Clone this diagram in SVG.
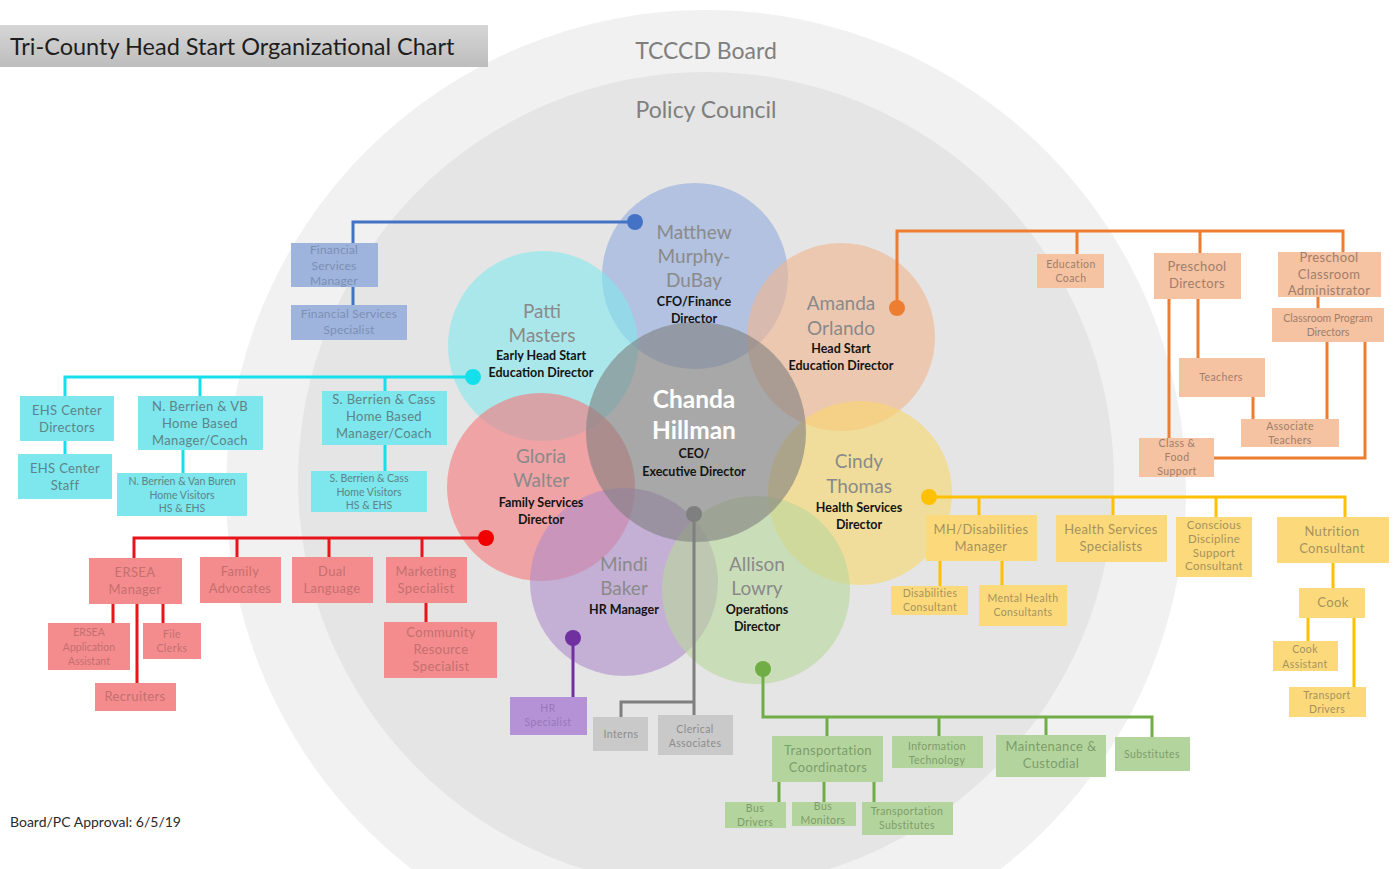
<svg xmlns="http://www.w3.org/2000/svg" width="1395" height="869" viewBox="0 0 1395 869">
<defs>
  <linearGradient id="titleGrad" x1="0" y1="0" x2="0" y2="1">
    <stop offset="0" stop-color="#d6d6d6"/>
    <stop offset="1" stop-color="#bdbdbd"/>
  </linearGradient>
</defs>
<style>
  text{font-family:Lato,"Open Sans","Liberation Sans",sans-serif;text-anchor:middle}
  .ring{font-size:23px;fill:#7f7f7f}
  .nm{font-size:19px;fill:#8a8a8a}
  .ttl{font-size:12.5px;font-weight:bold;fill:#141414}
  .ceo{font-size:24.5px;font-weight:bold;fill:#ffffff}
  .person{opacity:0.6}
  .t12{font-size:13px;letter-spacing:0.35px}
  .t11{font-size:11.5px;letter-spacing:0.3px}
  .t10{font-size:10.5px;letter-spacing:0.4px}
  .t9{font-size:10.5px}
  .conn path{fill:none;stroke-width:3}
  .blue rect{fill:#9fb4dc}.blue text{fill:#7b8fb5;font-size:12px;letter-spacing:0.2px}
  .cyan rect{fill:#7ee6ed}.cyan text{fill:#5d8488}
  .red rect{fill:#f48c8d}.red text{fill:#c46f70}
  .purple rect{fill:#b592d6}.purple text{fill:#9877b6}
  .gray rect{fill:#c9c9c9}.gray text{fill:#8c8c8c}
  .green rect{fill:#b3d59d}.green text{fill:#7e9c6c}
  .orange rect{fill:#f5c3a1}.orange text{fill:#a07e6c}
  .yellow rect{fill:#fcda7c}.yellow text{fill:#a4925c}
</style>

<rect width="1395" height="869" fill="#ffffff"/>

<!-- governance rings -->
<g id="board">
  <circle cx="706" cy="490" r="480" fill="#f1f1f1"/>
  <text class="ring" x="706" y="59">TCCCD Board</text>
</g>
<g id="policy-council">
  <circle cx="706" cy="480" r="408" fill="#e5e5e5"/>
  <text class="ring" x="706" y="118">Policy Council</text>
</g>

<!-- title and footer -->
<rect x="0" y="25" width="488" height="42" fill="url(#titleGrad)"/>
<text x="10" y="55" style="text-anchor:start;font-size:23.5px;fill:#1e1e1e">Tri-County Head Start Organizational Chart</text>
<text x="10" y="827" style="text-anchor:start;font-size:14px;fill:#2a2a2a">Board/PC Approval: 6/5/19</text>

<!-- leadership circles -->
<g id="matthew">
  <circle class="person" cx="695" cy="276" r="93" fill="#8faadc"/>
</g>
<g id="patti">
  <circle class="person" cx="543" cy="346" r="95" fill="#82e8ed"/>
</g>
<g id="amanda">
  <circle class="person" cx="841" cy="337" r="94" fill="#f2b48e"/>
</g>
<g id="gloria">
  <circle class="person" cx="541" cy="487" r="94" fill="#f5767a"/>
</g>
<g id="cindy">
  <circle class="person" cx="860" cy="493" r="92" fill="#f8d769"/>
</g>
<g id="mindi">
  <circle class="person" cx="624" cy="582" r="94" fill="#af8cca"/>
</g>
<g id="allison">
  <circle class="person" cx="756" cy="590" r="94" fill="#b7d79b"/>
</g>
<g id="chanda">
  <circle class="person" cx="696" cy="432" r="110" fill="#7f7f7f"/>
</g>

<!-- leadership names -->
<g id="matthew-label">
  <text class="nm" x="694" y="239">Matthew</text>
  <text class="nm" x="694" y="263">Murphy-</text>
  <text class="nm" x="694" y="287">DuBay</text>
  <text class="ttl" x="694" y="306">CFO/Finance</text>
  <text class="ttl" x="694" y="323">Director</text>
</g>
<g id="patti-label">
  <text class="nm" x="542" y="318">Patti</text>
  <text class="nm" x="542" y="342">Masters</text>
  <text class="ttl" x="541" y="360">Early Head Start</text>
  <text class="ttl" x="541" y="377">Education Director</text>
</g>
<g id="amanda-label">
  <text class="nm" x="841" y="310">Amanda</text>
  <text class="nm" x="841" y="335">Orlando</text>
  <text class="ttl" x="841" y="353">Head Start</text>
  <text class="ttl" x="841" y="370">Education Director</text>
</g>
<g id="chanda-label">
  <text class="ceo" x="694" y="408">Chanda</text>
  <text class="ceo" x="694" y="439">Hillman</text>
  <text class="ttl" x="694" y="458">CEO/</text>
  <text class="ttl" x="694" y="476">Executive Director</text>
</g>
<g id="gloria-label">
  <text class="nm" x="541" y="463">Gloria</text>
  <text class="nm" x="541" y="487">Walter</text>
  <text class="ttl" x="541" y="507">Family Services</text>
  <text class="ttl" x="541" y="524">Director</text>
</g>
<g id="cindy-label">
  <text class="nm" x="859" y="468">Cindy</text>
  <text class="nm" x="859" y="493">Thomas</text>
  <text class="ttl" x="859" y="512">Health Services</text>
  <text class="ttl" x="859" y="529">Director</text>
</g>
<g id="mindi-label">
  <text class="nm" x="624" y="571">Mindi</text>
  <text class="nm" x="624" y="595">Baker</text>
  <text class="ttl" x="624" y="614">HR Manager</text>
</g>
<g id="allison-label">
  <text class="nm" x="757" y="571">Allison</text>
  <text class="nm" x="757" y="595">Lowry</text>
  <text class="ttl" x="757" y="614">Operations</text>
  <text class="ttl" x="757" y="631">Director</text>
</g>

<!-- reporting lines -->
<g id="connectors" class="conn">
  <path stroke="#4472c4" d="M635,222H353V243M353,287V305"/>
  <circle cx="635" cy="222" r="8" fill="#4472c4"/>
  <path stroke="#14e0ec" d="M473,377H65V396M200,377V396M385,377V391M65,441V454M183,450V473M385,445V471"/>
  <circle cx="473" cy="377" r="8" fill="#14e0ec"/>
  <path stroke="#e8141c" d="M486,538H134V558M237,538V557M329,538V557M422,538V557M113,604V623M137,604V683M163,604V623M426,603V622"/>
  <circle cx="486" cy="538" r="8" fill="#f00000"/>
  <path stroke="#7030a0" d="M573,638V697"/>
  <circle cx="573" cy="638" r="8" fill="#7030a0"/>
  <path stroke="#7f7f7f" d="M694,514V715M694,702H621V717"/>
  <circle cx="694" cy="514" r="8" fill="#7f7f7f"/>
  <path stroke="#70ad47" d="M763,669V717H1152V737M827,717V736M939,717V736M1046,717V735M779,782V802M824,782V802M874,782V802"/>
  <circle cx="763" cy="669" r="8" fill="#70ad47"/>
  <path stroke="#ed7d31" d="M897,308V231H1343V252M1077,231V254M1200,231V253M1318,297V308M1198,299V358M1169,299V438M1253,397V419M1327,342V419M1365,342V458H1214"/>
  <circle cx="897" cy="308" r="8" fill="#ed7d31"/>
  <path stroke="#ffc000" d="M929,497H1345V517M979,497V515M1113,497V515M1216,497V517M940,561V586M1002,561V585M1333,563V588M1308,618V641M1354,618V687"/>
  <circle cx="929" cy="497" r="8" fill="#ffc000"/>
</g>

<!-- finance -->
<g id="fin-manager" class="blue">
  <rect x="291" y="243" width="87" height="44"/>
  <text x="334" y="254">Financial</text>
  <text x="334" y="270">Services</text>
  <text x="334" y="285">Manager</text>
</g>
<g id="fin-specialist" class="blue">
  <rect x="291" y="305" width="116" height="35"/>
  <text x="349" y="318">Financial Services</text>
  <text x="349" y="334">Specialist</text>
</g>

<!-- early head start -->
<g id="ehs-directors" class="cyan">
  <rect x="20" y="396" width="94" height="45"/>
  <text class="t12" x="67" y="415">EHS Center</text>
  <text class="t12" x="67" y="432">Directors</text>
</g>
<g id="ehs-staff" class="cyan">
  <rect x="18" y="454" width="94" height="45"/>
  <text class="t12" x="65" y="473">EHS Center</text>
  <text class="t12" x="65" y="490">Staff</text>
</g>
<g id="nb-manager" class="cyan">
  <rect x="138" y="396" width="125" height="54"/>
  <text class="t12" x="200" y="411">N. Berrien &amp; VB</text>
  <text class="t12" x="200" y="428">Home Based</text>
  <text class="t12" x="200" y="445">Manager/Coach</text>
</g>
<g id="nb-visitors" class="cyan">
  <rect x="117" y="473" width="130" height="43"/>
  <text class="t9" x="182" y="485">N. Berrien &amp; Van Buren</text>
  <text class="t9" x="182" y="499">Home Visitors</text>
  <text class="t9" x="182" y="512">HS &amp; EHS</text>
</g>
<g id="sb-manager" class="cyan">
  <rect x="322" y="391" width="125" height="54"/>
  <text class="t12" x="384" y="404">S. Berrien &amp; Cass</text>
  <text class="t12" x="384" y="421">Home Based</text>
  <text class="t12" x="384" y="438">Manager/Coach</text>
</g>
<g id="sb-visitors" class="cyan">
  <rect x="311" y="471" width="116" height="41"/>
  <text class="t9" x="369" y="482">S. Berrien &amp; Cass</text>
  <text class="t9" x="369" y="496">Home Visitors</text>
  <text class="t9" x="369" y="509">HS &amp; EHS</text>
</g>

<!-- family services -->
<g id="ersea-manager" class="red">
  <rect x="89" y="558" width="93" height="46"/>
  <text class="t12" x="135" y="577">ERSEA</text>
  <text class="t12" x="135" y="594">Manager</text>
</g>
<g id="family-advocates" class="red">
  <rect x="200" y="557" width="81" height="46"/>
  <text class="t12" x="240" y="576">Family</text>
  <text class="t12" x="240" y="593">Advocates</text>
</g>
<g id="dual-language" class="red">
  <rect x="292" y="557" width="81" height="46"/>
  <text class="t12" x="332" y="576">Dual</text>
  <text class="t12" x="332" y="593">Language</text>
</g>
<g id="marketing" class="red">
  <rect x="386" y="557" width="81" height="46"/>
  <text class="t12" x="426" y="576">Marketing</text>
  <text class="t12" x="426" y="593">Specialist</text>
</g>
<g id="ersea-assistant" class="red">
  <rect x="48" y="623" width="82" height="47"/>
  <text class="t9" x="89" y="636">ERSEA</text>
  <text class="t9" x="89" y="651">Application</text>
  <text class="t9" x="89" y="665">Assistant</text>
</g>
<g id="file-clerks" class="red">
  <rect x="143" y="623" width="58" height="36"/>
  <text class="t10" x="172" y="638">File</text>
  <text class="t10" x="172" y="652">Clerks</text>
</g>
<g id="recruiters" class="red">
  <rect x="95" y="683" width="81" height="28"/>
  <text class="t12" x="135" y="701">Recruiters</text>
</g>
<g id="community-resource" class="red">
  <rect x="384" y="622" width="113" height="56"/>
  <text class="t12" x="441" y="637">Community</text>
  <text class="t12" x="441" y="654">Resource</text>
  <text class="t12" x="441" y="671">Specialist</text>
</g>

<!-- human resources -->
<g id="hr-specialist" class="purple">
  <rect x="510" y="697" width="77" height="38"/>
  <text class="t10" x="548" y="712">HR</text>
  <text class="t10" x="548" y="726">Specialist</text>
</g>

<!-- executive office -->
<g id="interns" class="gray">
  <rect x="593" y="717" width="55" height="34"/>
  <text class="t10" x="621" y="738">Interns</text>
</g>
<g id="clerical" class="gray">
  <rect x="658" y="715" width="75" height="40"/>
  <text class="t10" x="695" y="733">Clerical</text>
  <text class="t10" x="695" y="747">Associates</text>
</g>

<!-- operations -->
<g id="transport-coord" class="green">
  <rect x="772" y="736" width="111" height="46"/>
  <text class="t12" x="828" y="755">Transportation</text>
  <text class="t12" x="828" y="772">Coordinators</text>
</g>
<g id="info-tech" class="green">
  <rect x="892" y="736" width="91" height="32"/>
  <text class="t10" x="937" y="750">Information</text>
  <text class="t10" x="937" y="764">Technology</text>
</g>
<g id="maintenance" class="green">
  <rect x="996" y="735" width="110" height="42"/>
  <text class="t12" x="1051" y="751">Maintenance &amp;</text>
  <text class="t12" x="1051" y="768">Custodial</text>
</g>
<g id="substitutes" class="green">
  <rect x="1115" y="737" width="75" height="34"/>
  <text class="t10" x="1152" y="758">Substitutes</text>
</g>
<g id="bus-drivers" class="green">
  <rect x="725" y="802" width="61" height="26"/>
  <text class="t10" x="755" y="812">Bus</text>
  <text class="t10" x="755" y="826">Drivers</text>
</g>
<g id="bus-monitors" class="green">
  <rect x="792" y="802" width="64" height="24"/>
  <text class="t10" x="823" y="810">Bus</text>
  <text class="t10" x="823" y="824">Monitors</text>
</g>
<g id="transport-subs" class="green">
  <rect x="862" y="802" width="91" height="33"/>
  <text class="t10" x="907" y="815">Transportation</text>
  <text class="t10" x="907" y="829">Substitutes</text>
</g>

<!-- head start education -->
<g id="education-coach" class="orange">
  <rect x="1037" y="254" width="67" height="34"/>
  <text class="t10" x="1071" y="268">Education</text>
  <text class="t10" x="1071" y="282">Coach</text>
</g>
<g id="preschool-directors" class="orange">
  <rect x="1154" y="253" width="87" height="46"/>
  <text class="t12" x="1197" y="271">Preschool</text>
  <text class="t12" x="1197" y="288">Directors</text>
</g>
<g id="classroom-admin" class="orange">
  <rect x="1278" y="252" width="103" height="45"/>
  <text class="t12" x="1329" y="262">Preschool</text>
  <text class="t12" x="1329" y="279">Classroom</text>
  <text class="t12" x="1329" y="295">Administrator</text>
</g>
<g id="program-directors" class="orange">
  <rect x="1272" y="308" width="112" height="34"/>
  <text class="t9" x="1328" y="322">Classroom Program</text>
  <text class="t9" x="1328" y="336">Directors</text>
</g>
<g id="teachers" class="orange">
  <rect x="1179" y="358" width="86" height="39"/>
  <text class="t10" x="1221" y="381">Teachers</text>
</g>
<g id="associate-teachers" class="orange">
  <rect x="1241" y="419" width="98" height="28"/>
  <text class="t10" x="1290" y="430">Associate</text>
  <text class="t10" x="1290" y="444">Teachers</text>
</g>
<g id="class-food" class="orange">
  <rect x="1139" y="438" width="75" height="39"/>
  <text class="t10" x="1177" y="447">Class &amp;</text>
  <text class="t10" x="1177" y="461">Food</text>
  <text class="t10" x="1177" y="475">Support</text>
</g>

<!-- health services -->
<g id="mh-manager" class="yellow">
  <rect x="926" y="515" width="111" height="46"/>
  <text class="t12" x="981" y="534">MH/Disabilities</text>
  <text class="t12" x="981" y="551">Manager</text>
</g>
<g id="health-specialists" class="yellow">
  <rect x="1056" y="515" width="111" height="47"/>
  <text class="t12" x="1111" y="534">Health Services</text>
  <text class="t12" x="1111" y="551">Specialists</text>
</g>
<g id="conscious-discipline" class="yellow">
  <rect x="1176" y="517" width="76" height="60"/>
  <text class="t11" x="1214" y="529">Conscious</text>
  <text class="t11" x="1214" y="543">Discipline</text>
  <text class="t11" x="1214" y="557">Support</text>
  <text class="t11" x="1214" y="570">Consultant</text>
</g>
<g id="nutrition" class="yellow">
  <rect x="1277" y="517" width="112" height="46"/>
  <text class="t12" x="1332" y="536">Nutrition</text>
  <text class="t12" x="1332" y="553">Consultant</text>
</g>
<g id="disabilities-consultant" class="yellow">
  <rect x="891" y="586" width="77" height="29"/>
  <text class="t10" x="930" y="597">Disabilities</text>
  <text class="t10" x="930" y="611">Consultant</text>
</g>
<g id="mental-health" class="yellow">
  <rect x="979" y="585" width="88" height="41"/>
  <text class="t10" x="1023" y="602">Mental Health</text>
  <text class="t10" x="1023" y="616">Consultants</text>
</g>
<g id="cook" class="yellow">
  <rect x="1299" y="588" width="66" height="30"/>
  <text class="t12" x="1333" y="607">Cook</text>
</g>
<g id="cook-assistant" class="yellow">
  <rect x="1273" y="641" width="65" height="30"/>
  <text class="t10" x="1305" y="653">Cook</text>
  <text class="t10" x="1305" y="668">Assistant</text>
</g>
<g id="transport-drivers" class="yellow">
  <rect x="1289" y="687" width="77" height="30"/>
  <text class="t10" x="1327" y="699">Transport</text>
  <text class="t10" x="1327" y="713">Drivers</text>
</g>
</svg>
